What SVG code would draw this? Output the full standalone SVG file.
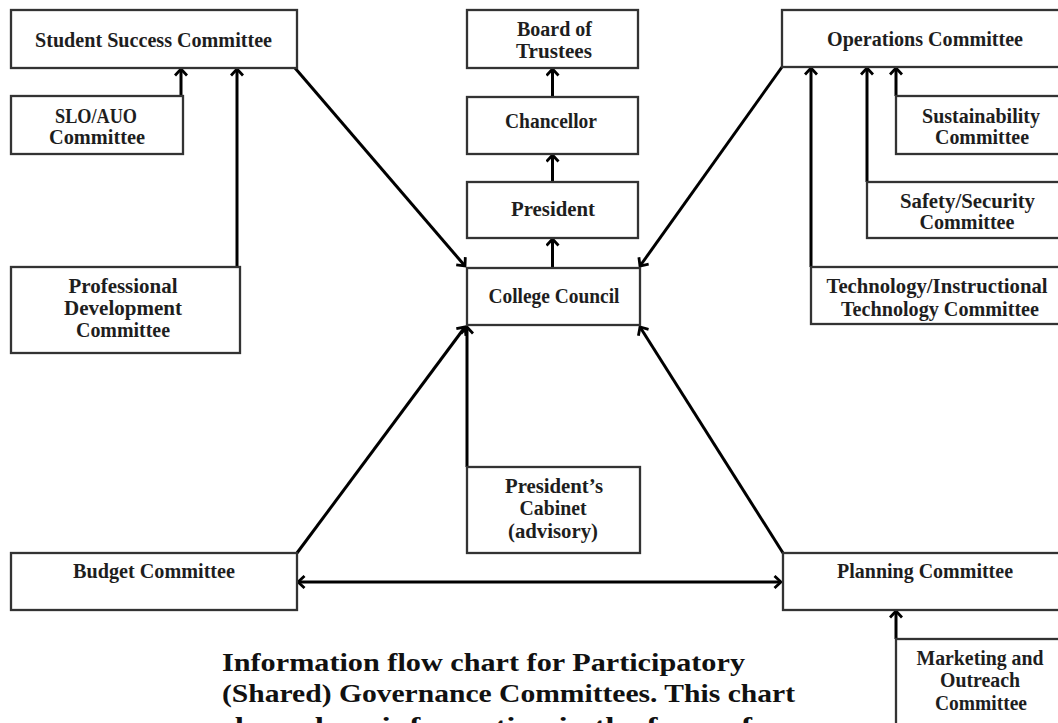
<svg xmlns="http://www.w3.org/2000/svg" width="1058" height="723" viewBox="0 0 1058 723">
<style>
.box{fill:#fff;stroke:#333;stroke-width:2.3}
.lbl{font-family:"Liberation Serif","Times New Roman",serif;font-weight:bold;font-size:20px;fill:#1e1e1e;text-anchor:middle}
.cap{font-family:"Liberation Serif","Times New Roman",serif;font-weight:bold;font-size:26px;fill:#111}
.con{fill:none;stroke:#000;stroke-width:3}
</style>
<defs>
<marker id="ah" markerUnits="userSpaceOnUse" markerWidth="14" markerHeight="14" viewBox="0 0 14 14" refX="12" refY="7" orient="auto-start-reverse">
<path d="M5.5,1 L12,7 L5.5,13" fill="none" stroke="#000" stroke-width="2.8"/>
</marker>
</defs>
<rect width="1058" height="723" fill="#fff"/>

<g id="connectors">
<line class="con" x1="181" y1="96" x2="181" y2="69" marker-end="url(#ah)"/>
<line class="con" x1="237" y1="267" x2="237" y2="69" marker-end="url(#ah)"/>
<line class="con" x1="295" y1="68" x2="465" y2="266" marker-end="url(#ah)"/>
<line class="con" x1="782" y1="67" x2="640" y2="266" marker-end="url(#ah)"/>
<line class="con" x1="552.5" y1="97" x2="552.5" y2="69" marker-end="url(#ah)"/>
<line class="con" x1="552.5" y1="182" x2="552.5" y2="155" marker-end="url(#ah)"/>
<line class="con" x1="552.5" y1="268" x2="552.5" y2="239" marker-end="url(#ah)"/>
<line class="con" x1="896" y1="96" x2="896" y2="68" marker-end="url(#ah)"/>
<line class="con" x1="867" y1="182" x2="867" y2="68" marker-end="url(#ah)"/>
<line class="con" x1="811" y1="267" x2="811" y2="68" marker-end="url(#ah)"/>
<line class="con" x1="467" y1="467" x2="467" y2="327" marker-end="url(#ah)"/>
<line class="con" x1="297" y1="553" x2="465" y2="327" marker-end="url(#ah)"/>
<line class="con" x1="783" y1="553" x2="640" y2="327" marker-end="url(#ah)"/>
<line class="con" x1="298" y1="582" x2="781" y2="582" marker-start="url(#ah)" marker-end="url(#ah)"/>
<line class="con" x1="896" y1="639" x2="896" y2="611" marker-end="url(#ah)"/>
</g>

<g id="student-success">
<rect class="box" x="11" y="10" width="286" height="58"/>
<text class="lbl" x="153.5" y="47" textLength="237" lengthAdjust="spacingAndGlyphs">Student Success Committee</text>
</g>
<g id="slo-auo">
<rect class="box" x="11" y="96" width="172" height="58"/>
<text class="lbl" x="96" y="123" textLength="82" lengthAdjust="spacingAndGlyphs">SLO/AUO</text>
<text class="lbl" x="97" y="143.5" textLength="96" lengthAdjust="spacingAndGlyphs">Committee</text>
</g>
<g id="professional-development">
<rect class="box" x="11" y="267" width="229" height="86"/>
<text class="lbl" x="123" y="292.5" textLength="109" lengthAdjust="spacingAndGlyphs">Professional</text>
<text class="lbl" x="123" y="315" textLength="118" lengthAdjust="spacingAndGlyphs">Development</text>
<text class="lbl" x="123" y="337" textLength="94" lengthAdjust="spacingAndGlyphs">Committee</text>
</g>
<g id="board">
<rect class="box" x="467" y="10" width="171" height="58"/>
<text class="lbl" x="554.5" y="36" textLength="75" lengthAdjust="spacingAndGlyphs">Board of</text>
<text class="lbl" x="554" y="58" textLength="76" lengthAdjust="spacingAndGlyphs">Trustees</text>
</g>
<g id="chancellor">
<rect class="box" x="467" y="97" width="171" height="57"/>
<text class="lbl" x="551" y="128" textLength="92" lengthAdjust="spacingAndGlyphs">Chancellor</text>
</g>
<g id="president">
<rect class="box" x="467" y="182" width="171" height="56"/>
<text class="lbl" x="553" y="216" textLength="84" lengthAdjust="spacingAndGlyphs">President</text>
</g>
<g id="college-council">
<rect class="box" x="467" y="268" width="173" height="57"/>
<text class="lbl" x="554" y="303" textLength="131" lengthAdjust="spacingAndGlyphs">College Council</text>
</g>
<g id="operations">
<rect class="box" x="782" y="10" width="290" height="57"/>
<text class="lbl" x="925" y="46" textLength="196" lengthAdjust="spacingAndGlyphs">Operations Committee</text>
</g>
<g id="sustainability">
<rect class="box" x="896" y="96" width="180" height="58"/>
<text class="lbl" x="981" y="122.5" textLength="118" lengthAdjust="spacingAndGlyphs">Sustainability</text>
<text class="lbl" x="982" y="144" textLength="94" lengthAdjust="spacingAndGlyphs">Committee</text>
</g>
<g id="safety-security">
<rect class="box" x="867" y="182" width="210" height="56"/>
<text class="lbl" x="967.5" y="207.5" textLength="135" lengthAdjust="spacingAndGlyphs">Safety/Security</text>
<text class="lbl" x="967" y="228.5" textLength="95" lengthAdjust="spacingAndGlyphs">Committee</text>
</g>
<g id="technology">
<rect class="box" x="811" y="267" width="266" height="57"/>
<text class="lbl" x="937" y="293" textLength="221" lengthAdjust="spacingAndGlyphs">Technology/Instructional</text>
<text class="lbl" x="940" y="316" textLength="198" lengthAdjust="spacingAndGlyphs">Technology Committee</text>
</g>
<g id="presidents-cabinet">
<rect class="box" x="467" y="467" width="173" height="86"/>
<text class="lbl" x="554" y="492.5" textLength="98" lengthAdjust="spacingAndGlyphs">President’s</text>
<text class="lbl" x="553" y="515" textLength="67" lengthAdjust="spacingAndGlyphs">Cabinet</text>
<text class="lbl" x="553" y="537.5" textLength="90" lengthAdjust="spacingAndGlyphs">(advisory)</text>
</g>
<g id="budget">
<rect class="box" x="11" y="553" width="286" height="57"/>
<text class="lbl" x="154" y="578" textLength="162" lengthAdjust="spacingAndGlyphs">Budget Committee</text>
</g>
<g id="planning">
<rect class="box" x="783" y="553" width="290" height="57"/>
<text class="lbl" x="925" y="578" textLength="176" lengthAdjust="spacingAndGlyphs">Planning Committee</text>
</g>
<g id="marketing">
<rect class="box" x="896" y="639" width="180" height="95"/>
<text class="lbl" x="980" y="664.5" textLength="127" lengthAdjust="spacingAndGlyphs">Marketing and</text>
<text class="lbl" x="980" y="686.5" textLength="80" lengthAdjust="spacingAndGlyphs">Outreach</text>
<text class="lbl" x="981" y="709.5" textLength="92" lengthAdjust="spacingAndGlyphs">Committee</text>
</g>

<g id="caption">
<text class="cap" x="222" y="671" textLength="523" lengthAdjust="spacingAndGlyphs">Information flow chart for Participatory</text>
<text class="cap" x="222" y="702" textLength="573" lengthAdjust="spacingAndGlyphs">(Shared) Governance Committees. This chart</text>
<text class="cap" x="222" y="735" textLength="530" lengthAdjust="spacingAndGlyphs">shows how information in the form of</text>
</g>
</svg>
